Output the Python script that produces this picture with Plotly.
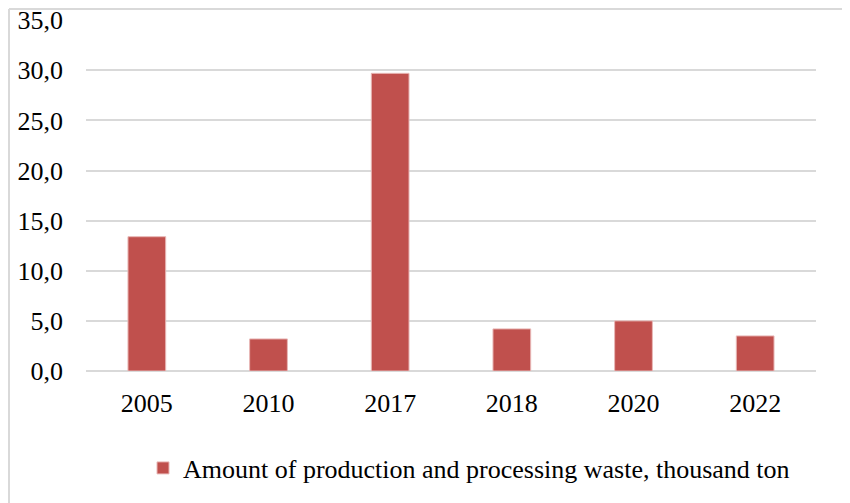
import plotly.graph_objects as go

years = ["2005", "2010", "2017", "2018", "2020", "2022"]
waste = [13.4, 3.2, 29.7, 4.2, 5.0, 3.5]
series_name = "Amount of production and processing waste, thousand ton"
y_ticks = [0, 5, 10, 15, 20, 25, 30, 35]

# page has an 8px body margin; work in figure pixel coordinates
W, H = 850, 503
L, R, T, B = 78, 42, 12, 140
pw, ph = W - L - R, H - T - B

def px_to_paper_x(px):
    return (px - L) / pw

def px_to_paper_y(py):
    return (H - B - py) / ph

FONT = "Liberation Serif, Times New Roman, serif"
GRID = "#d9d9d9"
FS = 26

fig = go.Figure()
fig.add_trace(go.Bar(
    x=years, y=waste, name=series_name,
    marker=dict(color="#C0504D", line=dict(color="#e8b7b6", width=1)),
    showlegend=True,
))

fig.update_layout(
    width=W, height=H,
    margin=dict(l=L, r=R, t=T, b=B, autoexpand=False),
    paper_bgcolor="white", plot_bgcolor="white",
    separators=", ",
    bargap=0.69,
    font=dict(family=FONT, size=FS, color="black"),
    showlegend=True,
    legend=dict(
        orientation="h", x=px_to_paper_x(135), xanchor="left",
        y=px_to_paper_y(460), yanchor="middle",
        font=dict(family=FONT, size=FS, color="black"),
        itemwidth=30,
    ),
    xaxis=dict(
        type="category", showgrid=False, showline=False, zeroline=False,
        ticks="", ticklabelstandoff=14,
        tickfont=dict(family=FONT, size=FS, color="black"),
    ),
    yaxis=dict(
        range=[0, 35.02], tickvals=y_ticks, tickformat=".1f",
        ticklabeloverflow="allow",
        showgrid=True, gridcolor=GRID, gridwidth=1.5,
        zeroline=True, zerolinecolor=GRID, zerolinewidth=1.5,
        showline=False, ticks="", ticklabelstandoff=22,
        tickfont=dict(family=FONT, size=FS, color="black"),
    ),
    shapes=[
        dict(type="line", xref="paper", yref="paper",
             x0=px_to_paper_x(1), x1=px_to_paper_x(1),
             y0=px_to_paper_y(1), y1=px_to_paper_y(520),
             line=dict(color=GRID, width=2)),
        dict(type="line", xref="paper", yref="paper",
             x0=px_to_paper_x(1), x1=px_to_paper_x(870),
             y0=px_to_paper_y(1), y1=px_to_paper_y(1),
             line=dict(color=GRID, width=2)),
    ],
    annotations=[
        dict(text="<b>g</b>", xref="paper", yref="paper",
             x=px_to_paper_x(84), y=px_to_paper_y(3), xanchor="center", yanchor="bottom",
             showarrow=False, font=dict(family=FONT, size=26, color="black")),
    ],
)

fig.write_html("out.html")
